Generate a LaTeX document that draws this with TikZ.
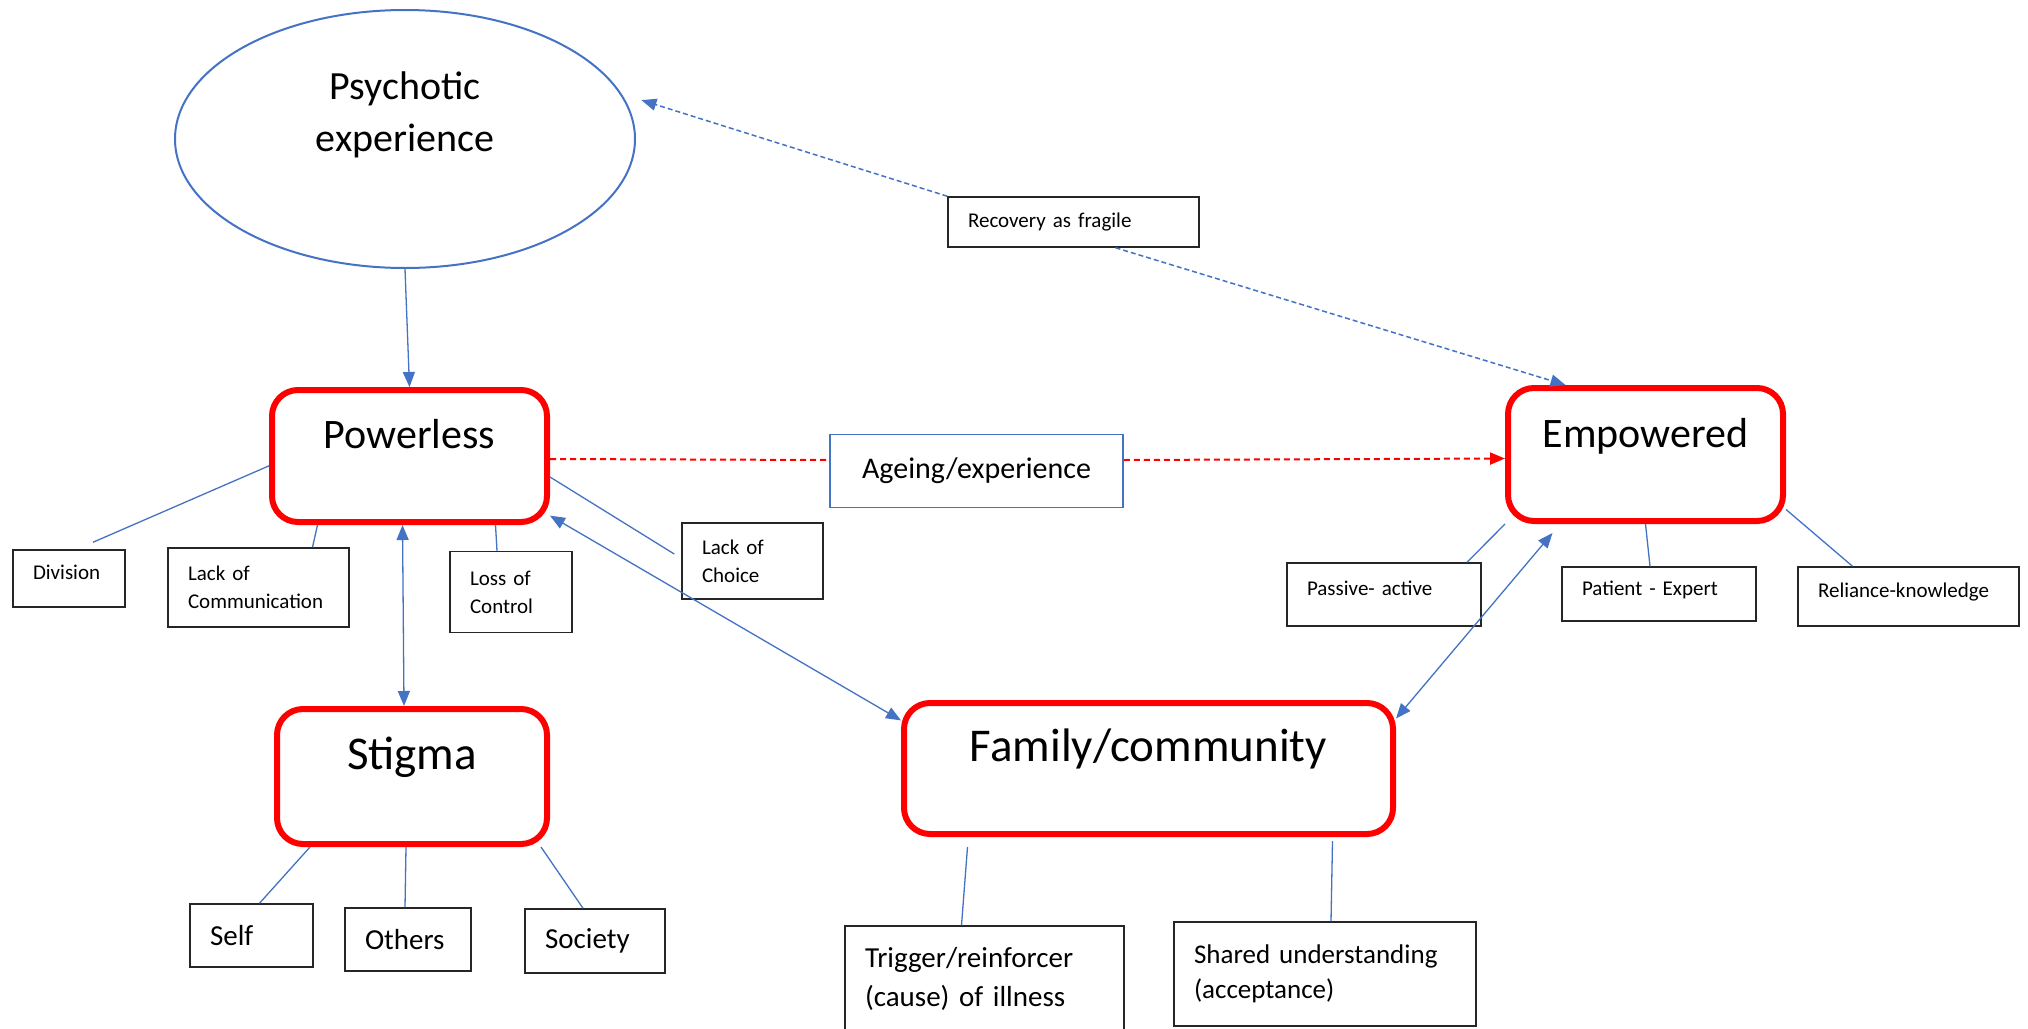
\documentclass[tikz,border=0pt]{standalone}
\usepackage{fontspec}
\setmainfont{Carlito}
\usetikzlibrary{arrows.meta,shapes.geometric}
\definecolor{lineblue}{HTML}{4472C4}
\definecolor{boxred}{HTML}{FF0000}
\begin{document}
\begin{tikzpicture}[x=1pt,y=-1pt,
  theme/.style={draw=boxred, line width=6pt, rounded corners=26pt, fill=white, inner sep=0pt,
    text height=30pt, text depth=45pt, font=\fontsize{42}{50}\selectfont},
  sub/.style={draw=black!85, line width=1.5pt, fill=white, inner xsep=20pt, inner ysep=0pt,
    align=left, font=\fontsize{21}{28}\selectfont},
  oneline/.style={text height=16pt, text depth=14pt},
  conn/.style={draw=lineblue, line width=1.3pt},
  tip/.style={-{Triangle[length=15pt,width=12pt]}},
  tips/.style={{Triangle[length=15pt,width=12pt]}-{Triangle[length=15pt,width=12pt]}},
  reddash/.style={draw=boxred, line width=2pt, dash pattern=on 6pt off 4pt},
  bluedash/.style={draw=lineblue, line width=1.5pt, dash pattern=on 5pt off 3pt}]
  \clip (0,0) rectangle (2028,1028);
  \fill[white] (0,0) rectangle (2028,1028);
  \node[ellipse, draw=lineblue, line width=2pt, minimum width=460pt, minimum height=258pt, inner sep=0pt] (psy) at (405,139) {};
  \node[font=\fontsize{40}{52}\selectfont, align=center] (psytxt) at (405,115) {Psychotic\\experience};
  \node[theme, minimum width=275pt, minimum height=132pt] (pow) at (409.5,456) {Powerless};
  \node[theme, minimum width=275pt, minimum height=133pt] (emp) at (1645.5,454.5) {Empowered};
  \node[theme, font=\fontsize{47}{56}\selectfont, minimum width=270pt, minimum height=135pt] (stig) at (412,776.5) {Stigma};
  \node[theme, font=\fontsize{47}{56}\selectfont, minimum width=489pt, minimum height=131pt] (fam) at (1148.5,768.5) {Family/community};
  \node[draw=lineblue, line width=1.5pt, fill=white, minimum width=293pt, minimum height=73pt, inner sep=0pt,
    font=\fontsize{30}{36}\selectfont] (age) at (976.5,471) {Ageing/experience};
  \node[sub, text width=211pt, minimum height=50pt] (rec) at (1073.5,222) {Recovery as fragile};
  \node[sub, oneline, text width=72pt, minimum height=57pt] (div) at (69,578.5) {Division};
  \node[sub, text width=141pt, minimum height=79pt] (comm) at (258.5,587.5) {Lack of\\Communication};
  \node[sub, text width=82pt, minimum height=81pt] (ctrl) at (511,592) {Loss of\\Control};
  \node[sub, text width=101pt, minimum height=76pt] (choice) at (752.5,561) {Lack of\\Choice};
  \node[sub, oneline, text width=154pt, minimum height=63pt] (pass) at (1384,594.5) {Passive- active};
  \node[sub, oneline, text width=154pt, minimum height=54pt] (pat) at (1659,594) {Patient - Expert};
  \node[sub, oneline, text width=181pt, minimum height=59pt] (rel) at (1908.5,596.5) {Reliance-knowledge};
  \node[sub, font=\fontsize{29}{36}\selectfont, text width=83pt, minimum height=63pt] (self) at (251.5,935.5) {Self};
  \node[sub, font=\fontsize{29}{36}\selectfont, text width=86pt, minimum height=63pt] (oth) at (408,939.5) {Others};
  \node[sub, font=\fontsize{29}{36}\selectfont, text width=100pt, minimum height=64pt] (soc) at (595,941) {Society};
  \node[sub, font=\fontsize{29}{39}\selectfont, text width=239pt, minimum height=106pt] (trig) at (984.5,979) {Trigger/reinforcer\\(cause) of illness};
  \node[sub, font=\fontsize{27}{35}\selectfont, text width=262pt, minimum height=104pt] (shar) at (1325,974) {Shared understanding\\(acceptance)};
  \draw[conn, tip] (psy.south) -- (pow.north);
  \draw[conn] (pow.184) -- ([shift={(24pt,7pt)}]div.north);
  \draw[conn] ([xshift=-92pt]pow.south) -- ([xshift=54pt]comm.north);
  \draw[conn] ([xshift=86pt]pow.south) -- ([xshift=-14pt]ctrl.north);
  \draw[conn] ([yshift=-21pt]pow.east) -- ([shift={(-7pt,7pt)}]choice.west);
  \draw[conn, tips] ([xshift=-7pt]pow.south) -- ([xshift=-8pt]stig.north);
  \draw[conn, tips] (pow.-23) -- (fam.169);
  \draw[conn, tips] ([shift={(-93pt,-9pt)}]emp.south) -- ([yshift=50pt]fam.east);
  \draw[conn] (emp.south west) -- ([xshift=83pt]pass.north);
  \draw[conn] (emp.south) -- ([xshift=-9pt]pat.north);
  \draw[conn] ([yshift=-55pt]emp.east) -- ([xshift=-56pt]rel.north);
  \draw[conn] ([xshift=-102pt]stig.south) -- ([xshift=8pt]self.north);
  \draw[conn] ([xshift=-6pt]stig.south) -- ([xshift=-3pt]oth.north);
  \draw[conn] ([xshift=129pt]stig.south) -- ([xshift=-12pt]soc.north);
  \draw[conn] ([shift={(-181pt,-10pt)}]fam.south) -- ([xshift=-23pt]trig.north);
  \draw[conn] ([shift={(184pt,-4pt)}]fam.south) -- ([xshift=6pt]shar.north);
  \draw[reddash] ([yshift=-3pt]pow.east) -- ([yshift=11pt]age.west);
  \draw[reddash, tip] ([yshift=11pt]age.east) -- ([yshift=-4pt]emp.west);
  \draw[bluedash, tip] (rec.north west) -- ([xshift=16pt]psy.10);
  \draw[bluedash, tip] ([xshift=42pt]rec.south) -- ([xshift=-80pt]emp.north);
\end{tikzpicture}
\end{document}
